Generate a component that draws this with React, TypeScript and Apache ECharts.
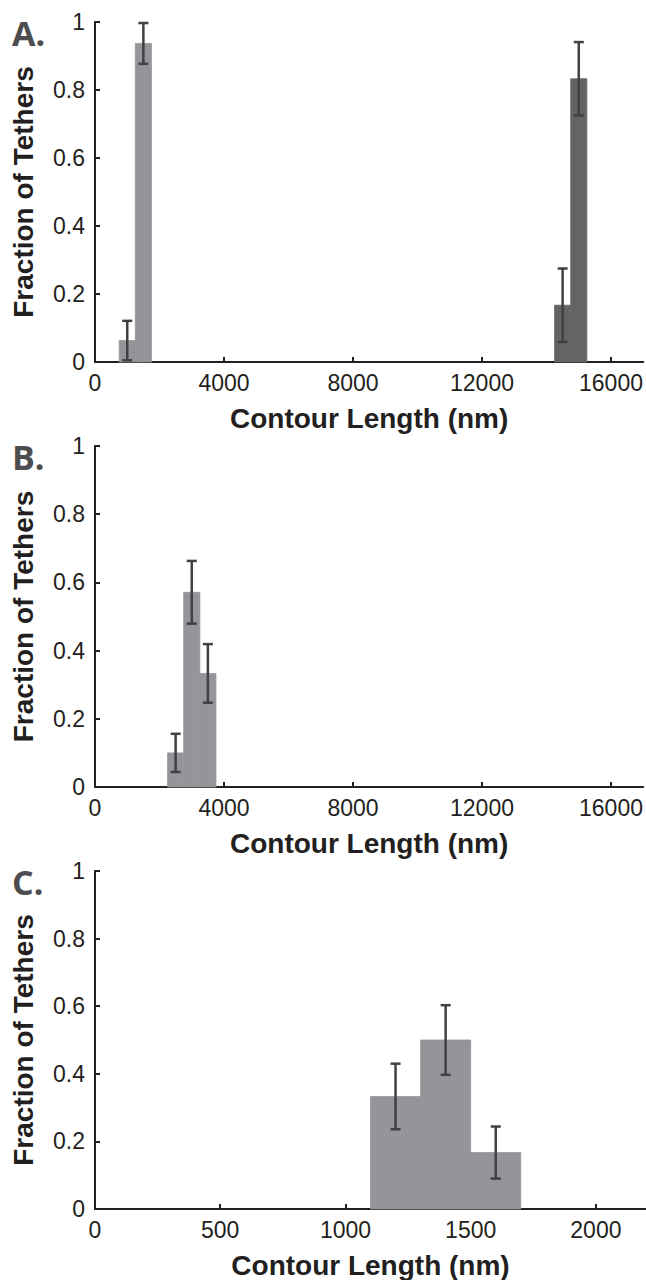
import React, { useEffect, useRef } from 'react';
import * as echarts from 'echarts';

// ---- data ----
const panelLabels = ['A.', 'B.', 'C.'];
const yTicks = [0, 0.2, 0.4, 0.6, 0.8, 1];
const xTicksAB = [0, 4000, 8000, 12000, 16000];
const xTicksC = [0, 500, 1000, 1500, 2000];
const xMaxAB = 17000;
const xMaxC = 2200;
const binWidthAB = 500;
const binWidthC = 200;

const aLightCenters = [1000, 1500];
const aLightValues = [0.063, 0.937];
const aLightErrors = [0.058, 0.06];

const aDarkCenters = [14500, 15000];
const aDarkValues = [0.167, 0.833];
const aDarkErrors = [0.108, 0.108];

const bCenters = [2500, 3000, 3500];
const bValues = [0.1, 0.571, 0.333];
const bErrors = [0.056, 0.092, 0.086];

const cCenters = [1200, 1400, 1600];
const cValues = [0.333, 0.5, 0.167];
const cErrors = [0.097, 0.103, 0.077];

const xTitle = 'Contour Length (nm)';
const yTitle = 'Fraction of Tethers';

// ---- styles ----
const FONT = '"Liberation Sans", Arial, sans-serif';
const AXIS = '#231f20';
const LIGHT = '#939598';
const DARK = '#646466';
const ERR = '#414042';

function barData(centers: number[], values: number[], w: number) {
  return centers.map((c, i) => [c - w / 2, c + w / 2, values[i]]);
}
function errData(centers: number[], values: number[], errs: number[]) {
  return centers.map((c, i) => [c, Math.max(0, values[i] - errs[i]), values[i] + errs[i]]);
}

function barSeries(idx: number, data: number[][], color: string) {
  return {
    type: 'custom',
    xAxisIndex: idx,
    yAxisIndex: idx,
    z: 2,
    encode: { x: [0, 1], y: 2 },
    data,
    renderItem: (params: any, api: any) => {
      const p0 = api.coord([api.value(0), api.value(2)]);
      const p1 = api.coord([api.value(1), 0]);
      return {
        type: 'rect',
        shape: { x: p0[0], y: p0[1], width: p1[0] - p0[0], height: p1[1] - p0[1] },
        style: { fill: color, stroke: color, lineWidth: 0.8 },
      };
    },
  };
}

function errSeries(idx: number, data: number[][]) {
  return {
    type: 'custom',
    xAxisIndex: idx,
    yAxisIndex: idx,
    z: 4,
    encode: { x: 0, y: [1, 2] },
    data,
    renderItem: (params: any, api: any) => {
      const x = api.value(0);
      const lo = api.coord([x, api.value(1)]);
      const hi = api.coord([x, api.value(2)]);
      const w = 5;
      const st = { stroke: ERR, lineWidth: 2.5 };
      return {
        type: 'group',
        children: [
          { type: 'line', shape: { x1: lo[0], y1: lo[1], x2: hi[0], y2: hi[1] }, style: st },
          { type: 'line', shape: { x1: hi[0] - w, y1: hi[1], x2: hi[0] + w, y2: hi[1] }, style: st },
          { type: 'line', shape: { x1: lo[0] - w, y1: lo[1], x2: lo[0] + w, y2: lo[1] }, style: st },
        ],
      };
    },
  };
}

function xAxisFor(idx: number, max: number, ticks: number[]) {
  return {
    type: 'value',
    gridIndex: idx,
    min: 0,
    max,
    interval: ticks[1] - ticks[0],
    name: xTitle,
    nameLocation: 'middle',
    nameGap: 42,
    nameTextStyle: { fontFamily: FONT, fontSize: 28, fontWeight: 'bold', color: AXIS },
    axisLine: { show: true, onZero: false, lineStyle: { color: AXIS, width: 2 } },
    axisTick: { show: true, inside: true, length: 5, customValues: ticks, lineStyle: { color: AXIS, width: 2 } },
    axisLabel: {
      customValues: ticks,
      fontFamily: FONT,
      fontSize: 23,
      color: AXIS,
      margin: 9,
      formatter: (v: number) => (ticks.includes(v) ? String(v) : ''),
    },
    splitLine: { show: false },
  };
}

function yAxisFor(idx: number) {
  return {
    type: 'value',
    gridIndex: idx,
    min: 0,
    max: 1,
    interval: yTicks[1] - yTicks[0],
    name: yTitle,
    nameLocation: 'middle',
    nameGap: 58,
    nameTextStyle: { fontFamily: FONT, fontSize: 28, fontWeight: 'bold', color: AXIS },
    axisLine: { show: true, lineStyle: { color: AXIS, width: 2 } },
    axisTick: { show: true, inside: true, length: 5, lineStyle: { color: AXIS, width: 2 } },
    axisLabel: { fontFamily: FONT, fontSize: 23, color: AXIS, margin: 10 },
    splitLine: { show: false },
  };
}

export default function App() {
  const ref = useRef<HTMLDivElement>(null);
  useEffect(() => {
    if (!ref.current) return;
    const chart = echarts.init(ref.current, undefined, { renderer: 'svg' });
    const tops = [22, 446, 871];
    const heights = [340, 341, 340];
    chart.setOption({
      animation: false,
      backgroundColor: '#ffffff',
      grid: tops.map((t, i) => ({ left: 95, top: t, width: 551, height: heights[i] })),
      xAxis: [xAxisFor(0, xMaxAB, xTicksAB), xAxisFor(1, xMaxAB, xTicksAB), xAxisFor(2, xMaxC, xTicksC)],
      yAxis: [yAxisFor(0), yAxisFor(1), yAxisFor(2)],
      graphic: panelLabels.map((t, i) => ({
        type: 'text',
        x: 12,
        y: tops[i] + 11,
        style: {
          text: t,
          font: 'bold 34px "Open Sans", sans-serif',
          fill: '#4d4d4f',
          verticalAlign: 'middle',
        },
      })),
      series: [
        barSeries(0, barData(aLightCenters, aLightValues, binWidthAB), LIGHT),
        barSeries(0, barData(aDarkCenters, aDarkValues, binWidthAB), DARK),
        errSeries(0, errData(aLightCenters, aLightValues, aLightErrors)),
        errSeries(0, errData(aDarkCenters, aDarkValues, aDarkErrors)),
        barSeries(1, barData(bCenters, bValues, binWidthAB), LIGHT),
        errSeries(1, errData(bCenters, bValues, bErrors)),
        barSeries(2, barData(cCenters, cValues, binWidthC), LIGHT),
        errSeries(2, errData(cCenters, cValues, cErrors)),
      ],
    });
    return () => chart.dispose();
  }, []);
  return (
    <div
      ref={ref}
      style={{ position: 'absolute', left: 0, top: 0, width: 646, height: 1280, background: '#fff' }}
    />
  );
}
